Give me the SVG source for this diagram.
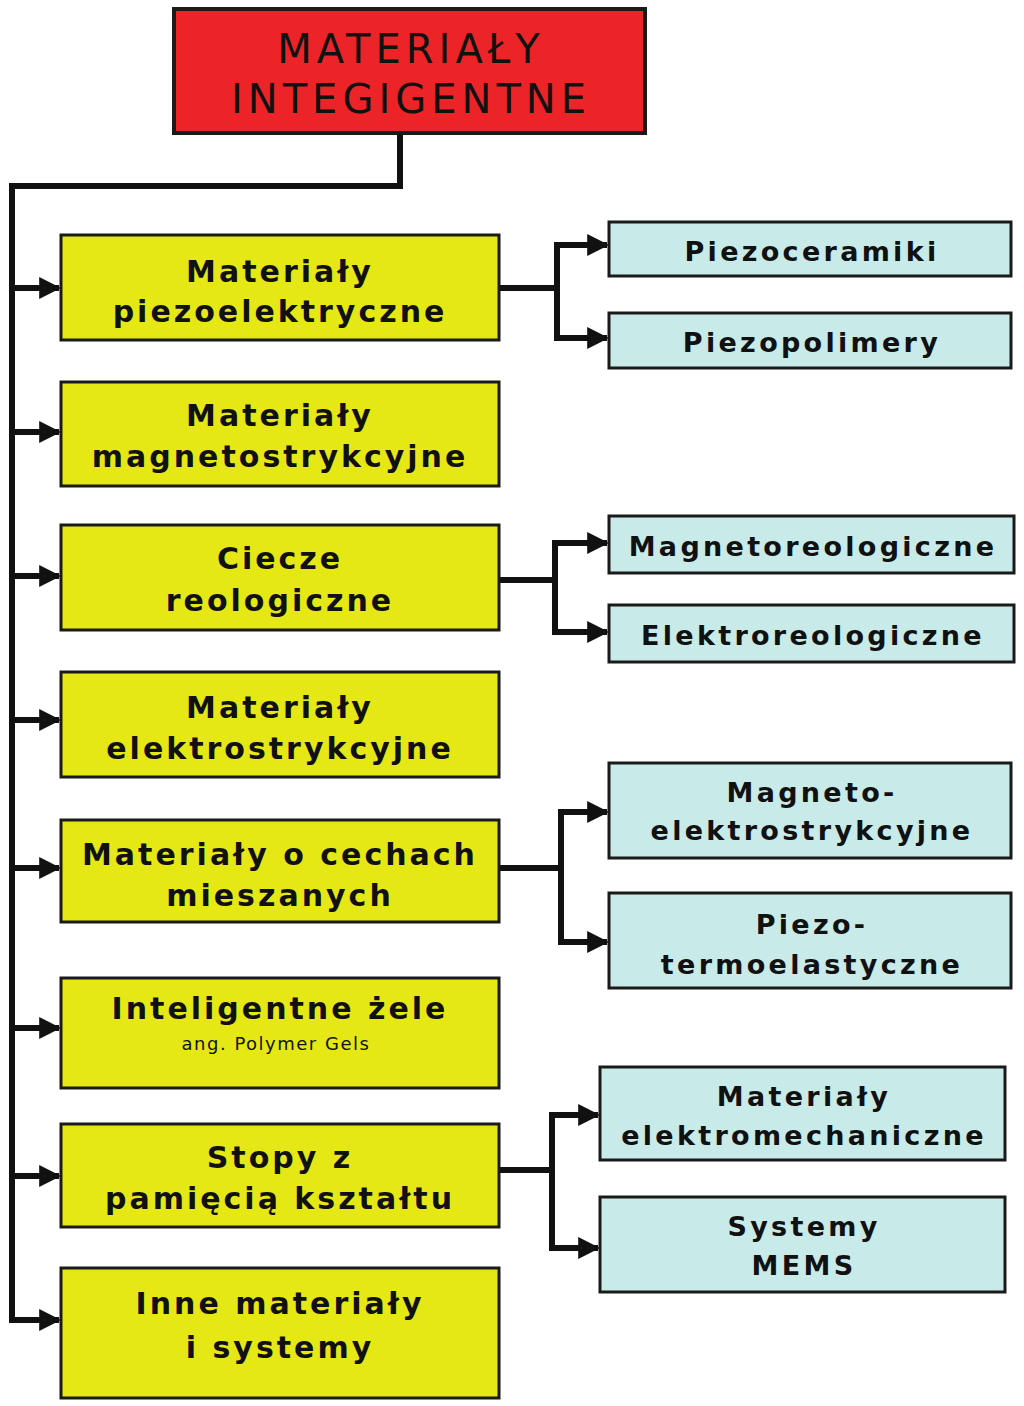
<svg xmlns="http://www.w3.org/2000/svg" width="1024" height="1406" viewBox="0 0 1024 1406">
<style>
.root{fill:#EC2427;stroke:#1a1a1a;stroke-width:4}
.y{fill:#E6E815;stroke:#1a1a1a;stroke-width:3}
.c{fill:#C8EAE8;stroke:#1a1a1a;stroke-width:3}
text{font-family:"DejaVu Sans","Liberation Sans",sans-serif;fill:#111;text-anchor:middle}
.t0{font-size:40px;letter-spacing:5px}
.t1{font-size:30px;font-weight:bold;letter-spacing:3px}
.t2{font-size:27px;font-weight:bold;letter-spacing:3.3px}
.ts{font-size:18px;letter-spacing:1.5px}
.ln{fill:none;stroke:#111;stroke-width:6;stroke-linejoin:miter}
</style>
<defs>
<marker id="ah" viewBox="0 0 20 20" refX="18" refY="10" markerWidth="22" markerHeight="22" markerUnits="userSpaceOnUse" orient="auto">
<path d="M0,0 L20,10 L0,20 Z" fill="#111"/>
</marker>
</defs>
<rect width="1024" height="1406" fill="#fff"/>
<g id="connectors">
<polyline class="ln" points="400,133 400,186 12,186 12,1320"/>
<line class="ln" x1="12" y1="288" x2="59" y2="288" marker-end="url(#ah)"/>
<line class="ln" x1="12" y1="432" x2="59" y2="432" marker-end="url(#ah)"/>
<line class="ln" x1="12" y1="576" x2="59" y2="576" marker-end="url(#ah)"/>
<line class="ln" x1="12" y1="720" x2="59" y2="720" marker-end="url(#ah)"/>
<line class="ln" x1="12" y1="868" x2="59" y2="868" marker-end="url(#ah)"/>
<line class="ln" x1="12" y1="1028" x2="59" y2="1028" marker-end="url(#ah)"/>
<line class="ln" x1="12" y1="1176" x2="59" y2="1176" marker-end="url(#ah)"/>
<polyline class="ln" points="12,1317 12,1320 59,1320" marker-end="url(#ah)"/>
<line class="ln" x1="499" y1="288" x2="557" y2="288"/>
<polyline class="ln" points="557,245 557,338"/>
<line class="ln" x1="554" y1="245" x2="607" y2="245" marker-end="url(#ah)"/>
<line class="ln" x1="554" y1="338" x2="607" y2="338" marker-end="url(#ah)"/>
<line class="ln" x1="499" y1="580" x2="555" y2="580"/>
<polyline class="ln" points="555,543 555,632"/>
<line class="ln" x1="552" y1="543" x2="607" y2="543" marker-end="url(#ah)"/>
<line class="ln" x1="552" y1="632" x2="607" y2="632" marker-end="url(#ah)"/>
<line class="ln" x1="499" y1="868" x2="561" y2="868"/>
<polyline class="ln" points="561,812 561,942"/>
<line class="ln" x1="558" y1="812" x2="607" y2="812" marker-end="url(#ah)"/>
<line class="ln" x1="558" y1="942" x2="607" y2="942" marker-end="url(#ah)"/>
<line class="ln" x1="499" y1="1170" x2="552" y2="1170"/>
<polyline class="ln" points="552,1115 552,1248"/>
<line class="ln" x1="549" y1="1115" x2="598" y2="1115" marker-end="url(#ah)"/>
<line class="ln" x1="549" y1="1248" x2="598" y2="1248" marker-end="url(#ah)"/>
</g>
<g id="root">
<rect class="root" x="174" y="9" width="471" height="124"/>
<text class="t0" x="411" y="63">MATERIAŁY</text>
<text class="t0" x="411" y="113">INTEGIGENTNE</text>
</g>
<g id="n1"><rect class="y" x="61" y="235" width="438" height="105"/>
<text class="t1" x="280" y="282">Materiały</text><text class="t1" x="280" y="322">piezoelektryczne</text></g>
<g id="n2"><rect class="y" x="61" y="382" width="438" height="104"/>
<text class="t1" x="280" y="426">Materiały</text><text class="t1" x="280" y="467">magnetostrykcyjne</text></g>
<g id="n3"><rect class="y" x="61" y="525" width="438" height="105"/>
<text class="t1" x="280" y="569">Ciecze</text><text class="t1" x="280" y="611">reologiczne</text></g>
<g id="n4"><rect class="y" x="61" y="672" width="438" height="105"/>
<text class="t1" x="280" y="718">Materiały</text><text class="t1" x="280" y="759">elektrostrykcyjne</text></g>
<g id="n5"><rect class="y" x="61" y="820" width="438" height="102"/>
<text class="t1" x="280" y="865">Materiały o cechach</text><text class="t1" x="280" y="906">mieszanych</text></g>
<g id="n6"><rect class="y" x="61" y="978" width="438" height="110"/>
<text class="t1" x="280" y="1019">Inteligentne żele</text><text class="ts" x="276" y="1050">ang. Polymer Gels</text></g>
<g id="n7"><rect class="y" x="61" y="1124" width="438" height="103"/>
<text class="t1" x="280" y="1168">Stopy z</text><text class="t1" x="280" y="1209">pamięcią kształtu</text></g>
<g id="n8"><rect class="y" x="61" y="1268" width="438" height="130"/>
<text class="t1" x="280" y="1314">Inne materiały</text><text class="t1" x="280" y="1358">i systemy</text></g>
<g id="c1"><rect class="c" x="609" y="222" width="402" height="54"/>
<text class="t2" x="812" y="261">Piezoceramiki</text></g>
<g id="c2"><rect class="c" x="609" y="313" width="402" height="55"/>
<text class="t2" x="812" y="352">Piezopolimery</text></g>
<g id="c3"><rect class="c" x="609" y="516" width="405" height="57"/>
<text class="t2" x="813" y="556">Magnetoreologiczne</text></g>
<g id="c4"><rect class="c" x="609" y="605" width="405" height="57"/>
<text class="t2" x="813" y="645">Elektroreologiczne</text></g>
<g id="c5"><rect class="c" x="609" y="763" width="402" height="95"/>
<text class="t2" x="812" y="802">Magneto-</text><text class="t2" x="812" y="840">elektrostrykcyjne</text></g>
<g id="c6"><rect class="c" x="609" y="893" width="402" height="95"/>
<text class="t2" x="812" y="934">Piezo-</text><text class="t2" x="812" y="974">termoelastyczne</text></g>
<g id="c7"><rect class="c" x="600" y="1067" width="405" height="93"/>
<text class="t2" x="804" y="1106">Materiały</text><text class="t2" x="804" y="1145">elektromechaniczne</text></g>
<g id="c8"><rect class="c" x="600" y="1197" width="405" height="95"/>
<text class="t2" x="804" y="1236">Systemy</text><text class="t2" x="804" y="1275">MEMS</text></g>
</svg>
